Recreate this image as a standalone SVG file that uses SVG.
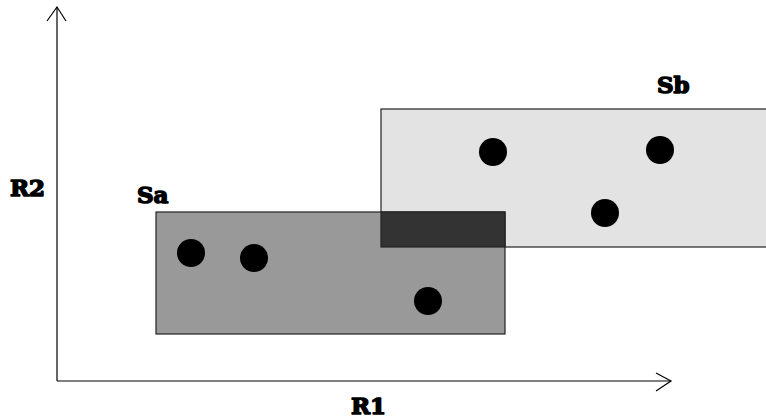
<svg xmlns="http://www.w3.org/2000/svg" width="766" height="418" viewBox="0 0 766 418">
  <style>
    .axis { stroke: #000; stroke-width: 1.2; fill: none; }
    .label { font-family: "DejaVu Serif", "Liberation Serif", serif; font-weight: 900; font-size: 23px; fill: #000; stroke: #000; stroke-width: 1.5; stroke-linejoin: round; }
    .pt { fill: #000; }
    .box { stroke: #222; stroke-width: 1.2; }
  </style>
  <rect width="766" height="418" fill="#fff"/>

  <!-- axes -->
  <g id="axes">
    <line class="axis" x1="57" y1="381" x2="57" y2="7"/>
    <polyline class="axis" points="47,21 57,7 66,21"/>
    <line class="axis" x1="57" y1="381" x2="671" y2="381"/>
    <polyline class="axis" points="656,373 671,381 656,391"/>
  </g>

  <!-- set Sb -->
  <g id="Sb">
    <rect class="box" x="381" y="109" width="390" height="138" fill="#e3e3e3"/>
  </g>

  <!-- set Sa -->
  <g id="Sa">
    <rect class="box" x="156" y="212" width="349" height="122" fill="#999"/>
  </g>

  <!-- overlap of Sa and Sb -->
  <g id="overlap">
    <rect class="box" x="381" y="212" width="124" height="35" fill="#333"/>
  </g>

  <!-- points -->
  <g id="points">
    <circle class="pt" cx="191" cy="253" r="14"/>
    <circle class="pt" cx="254" cy="258" r="14"/>
    <circle class="pt" cx="428" cy="301" r="14"/>
    <circle class="pt" cx="493" cy="152" r="14"/>
    <circle class="pt" cx="660" cy="150" r="14"/>
    <circle class="pt" cx="605" cy="213" r="14"/>
  </g>

  <!-- labels -->
  <g id="labels">
    <text class="label" x="137" y="203">Sa</text>
    <text class="label" x="657" y="93">Sb</text>
    <text class="label" x="10" y="196">R2</text>
    <text class="label" x="351" y="414">R1</text>
  </g>
</svg>
